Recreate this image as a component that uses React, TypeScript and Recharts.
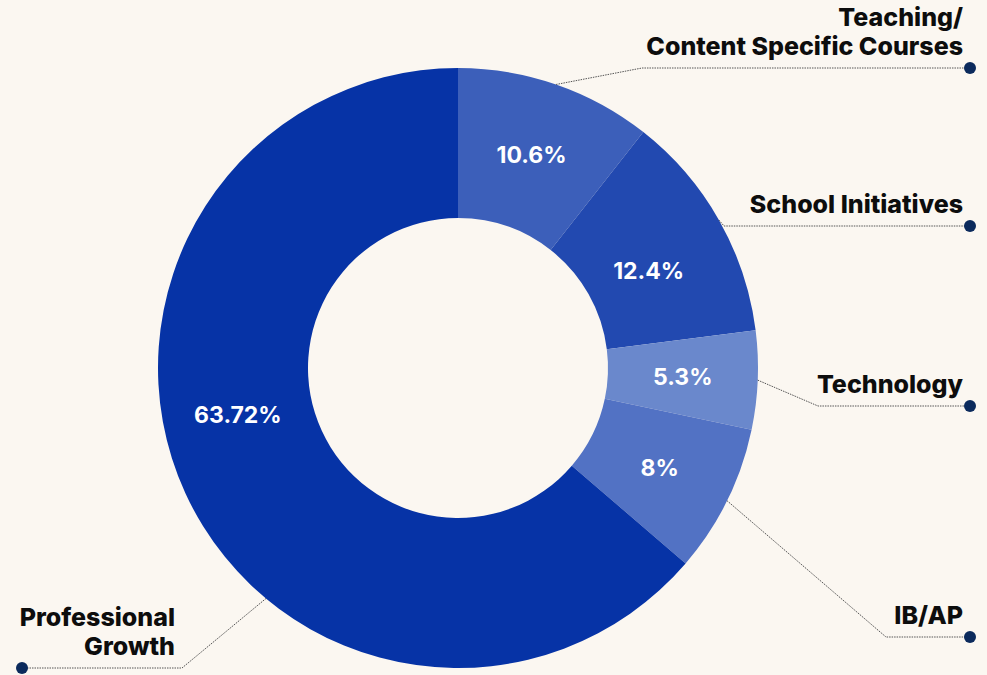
import React from "react";
import { PieChart, Pie, Cell } from "recharts";

const categories = [
  "Teaching/\nContent Specific Courses",
  "School Initiatives",
  "Technology",
  "IB/AP",
  "Professional\nGrowth",
];
const values = [10.6, 12.4, 5.3, 8, 63.72];
const colors = ["#3c5fba", "#2249b0", "#6a88cc", "#5272c4", "#0633a6"];

// callout placement (line y, elbow x, side); anchorAngle overrides the mid-angle start,
// valueAngle/valueR nudge the in-slice percentage
const labelLayout = [
  { lineY: 68, elbowX: 642, side: "right", anchorAngle: null, valueAngle: null, valueR: null },
  { lineY: 226, elbowX: 724, side: "right", anchorAngle: null, valueAngle: 27, valueR: 214 },
  { lineY: 406, elbowX: 818, side: "right", anchorAngle: null, valueAngle: null, valueR: null },
  { lineY: 637, elbowX: 886, side: "right", anchorAngle: null, valueAngle: null, valueR: null },
  { lineY: 668, elbowX: 182, side: "left", anchorAngle: -129.8, valueAngle: -168, valueR: 225 },
];

const data = categories.map((name, i) => ({ name, value: values[i] }));

const RADIAN = Math.PI / 180;
const W = 987;
const H = 675;

const renderLabel = (props: any) => {
  const { cx, cy, midAngle, innerRadius, outerRadius, index, value } = props;
  const lay = labelLayout[index];
  const vr = lay.valueR ?? (innerRadius + outerRadius) / 2;
  const va = lay.valueAngle ?? midAngle;
  const px = cx + vr * Math.cos(-va * RADIAN);
  const py = cy + vr * Math.sin(-va * RADIAN);

  const a = lay.anchorAngle ?? midAngle;
  const sx = cx + outerRadius * Math.cos(-a * RADIAN);
  const sy = cy + outerRadius * Math.sin(-a * RADIAN);
  const dotX = lay.side === "right" ? 970 : 22;
  const textX = lay.side === "right" ? 963 : 175;
  const lines = categories[index].split("\n");

  return (
    <g key={`lbl-${index}`}>
      <text
        x={px}
        y={py}
        fill="#ffffff"
        fontSize={23}
        fontWeight={700}
        fontFamily="Inter, sans-serif"
        textAnchor="middle"
        dominantBaseline="central"
      >
        {`${value}%`}
      </text>
      <polyline
        points={`${sx},${sy} ${lay.elbowX},${lay.lineY} ${dotX},${lay.lineY}`}
        fill="none"
        stroke="#555555"
        strokeWidth={1}
        strokeDasharray="1.5 1"
      />
      <circle cx={dotX} cy={lay.lineY} r={6} fill="#0b2a5c" />
      {lines.map((ln, k) => (
        <text
          key={k}
          x={textX}
          y={lay.lineY - 13 - (lines.length - 1 - k) * 29}
          fill="#0d0d0d"
          fontSize={25}
          fontWeight={800}
          fontFamily="Inter, sans-serif"
          textAnchor="end"
        >
          {ln}
        </text>
      ))}
    </g>
  );
};

export default function App() {
  return (
    <div
      style={{
        position: "absolute",
        left: 0,
        top: 0,
        width: W,
        height: H,
        background: "#fbf7f1",
      }}
    >
      <PieChart width={W} height={H} margin={{ top: 0, right: 0, bottom: 0, left: 0 }}>
        <Pie
          data={data}
          dataKey="value"
          nameKey="name"
          cx={458}
          cy={368}
          innerRadius={150}
          outerRadius={300}
          startAngle={90}
          endAngle={-270}
          stroke="none"
          label={renderLabel}
          labelLine={false}
          isAnimationActive={false}
        >
          {data.map((d, i) => (
            <Cell key={d.name} fill={colors[i]} />
          ))}
        </Pie>
      </PieChart>
    </div>
  );
}
